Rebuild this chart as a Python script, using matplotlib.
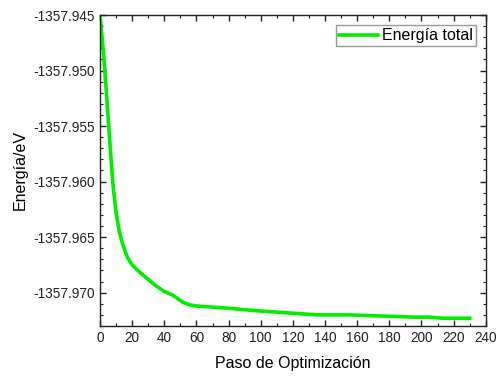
import matplotlib
matplotlib.use("Agg")
import matplotlib.pyplot as plt
from matplotlib.ticker import MultipleLocator, FormatStrFormatter

plt.rcParams['font.family'] = ['Liberation Sans', 'DejaVu Sans']

# optimisation step vs total energy
steps = [0, 2, 4, 6, 8, 10, 12, 14, 17, 20, 25, 30, 35, 40, 45, 48, 52, 56,
         60, 70, 80, 95, 115, 135, 155, 175, 195, 205, 213, 222, 230]
energy = [-1357.9450, -1357.9481, -1357.9520, -1357.9562, -1357.9602,
          -1357.9628, -1357.9645, -1357.9656, -1357.9668, -1357.9675,
          -1357.9682, -1357.9688, -1357.9694, -1357.9699, -1357.9702,
          -1357.9705, -1357.9709, -1357.9711, -1357.9712, -1357.9713,
          -1357.9714, -1357.9716, -1357.9718, -1357.9720, -1357.9720,
          -1357.9721, -1357.9722, -1357.9722, -1357.9723, -1357.9723,
          -1357.9723]

fig = plt.figure(figsize=(4.99, 3.77), dpi=100)
ax = fig.add_axes([0.2004, 0.1353, 0.7731, 0.8249])

ax.plot(steps, energy, color="#00ee00", lw=2.6, label="Energía total")

ax.set_xlim(0, 240)
ax.set_ylim(-1357.973, -1357.945)
ax.xaxis.set_major_locator(MultipleLocator(20))
ax.xaxis.set_minor_locator(MultipleLocator(10))
ax.yaxis.set_major_locator(MultipleLocator(0.005))
ax.yaxis.set_minor_locator(MultipleLocator(0.001))
ax.yaxis.set_major_formatter(FormatStrFormatter('%.3f'))

ax.tick_params(which="both", direction="in", top=True, right=True,
               labelsize=9.8, colors="#222222")
ax.tick_params(which="major", length=4, width=1)
ax.tick_params(which="minor", length=2.5, width=0.8)
for sp in ax.spines.values():
    sp.set_linewidth(1.0)
    sp.set_color("#222222")

ax.set_xlabel("Paso de Optimización", fontsize=11.5, labelpad=8)
ax.set_ylabel("Energía/eV", fontsize=11.5, labelpad=4)

ax.legend(loc="upper right", bbox_to_anchor=(0.974, 0.968), borderaxespad=0,
          fontsize=11.5, fancybox=False, edgecolor="#999999",
          handlelength=2.4, handletextpad=0.25, borderpad=0.2, framealpha=1)

fig.savefig("out.png", dpi=100)
